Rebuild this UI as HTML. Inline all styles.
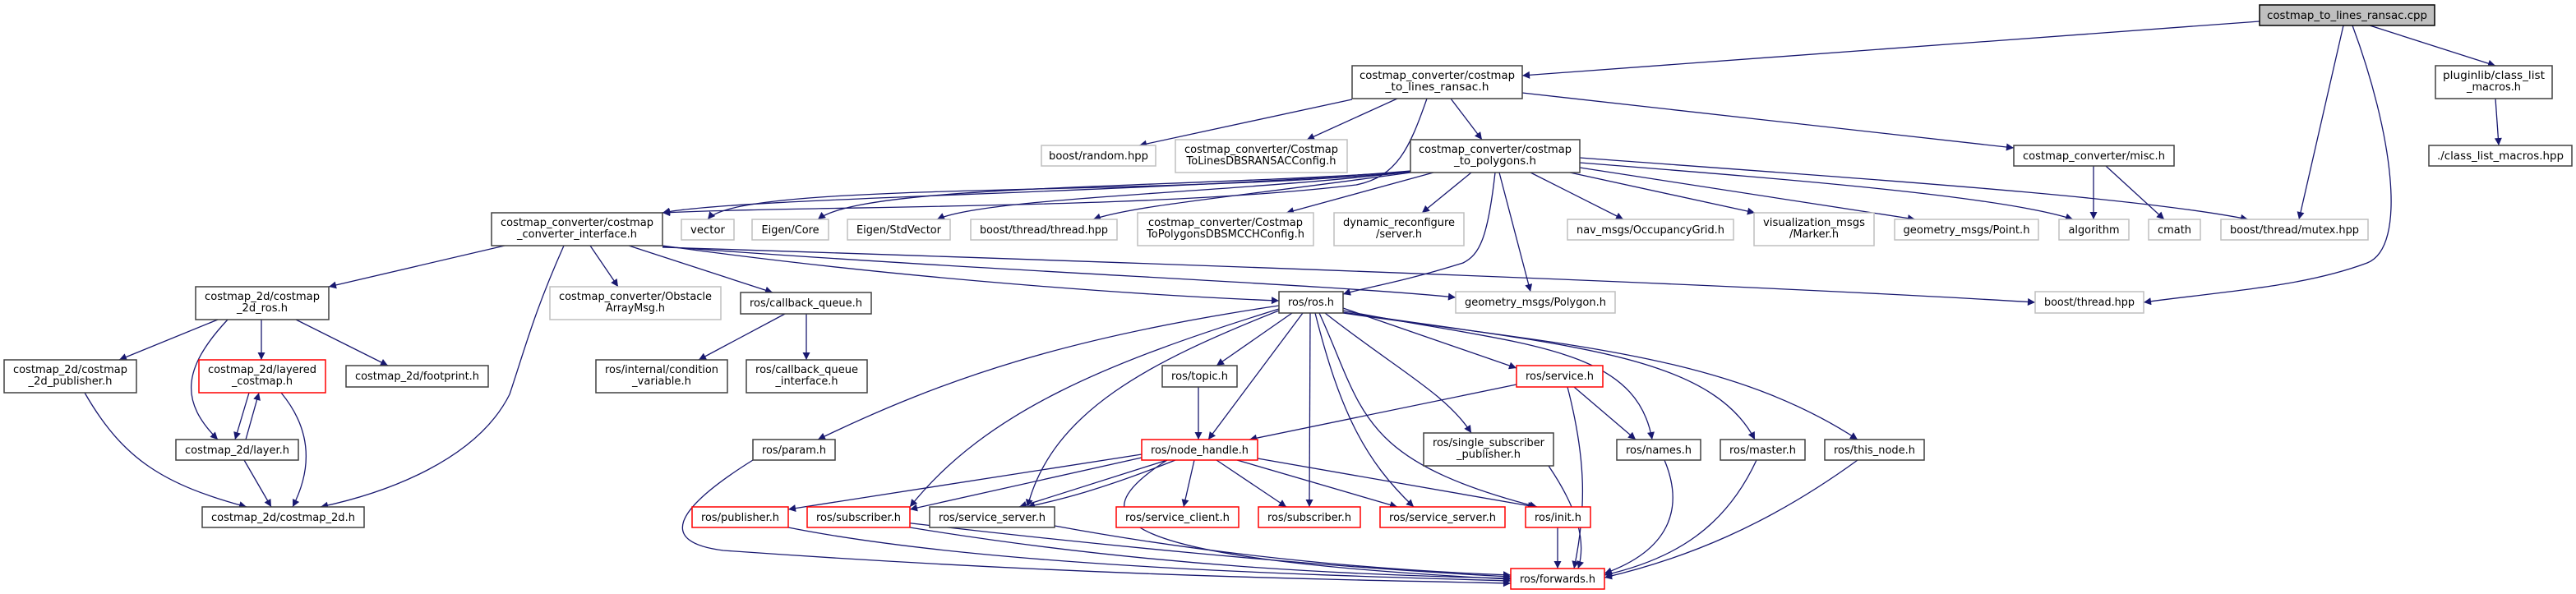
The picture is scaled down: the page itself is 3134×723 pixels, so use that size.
<!DOCTYPE html>
<html><head><meta charset="utf-8"><style>
html,body{margin:0;padding:0;background:#fff;}
svg{display:block;}
text{font-family:"DejaVu Sans","Liberation Sans",sans-serif;font-size:13px;fill:#000;text-anchor:middle;}
.n{fill:#fff;stroke:#404040;stroke-width:1.5;}
.g{fill:#fff;stroke:#bfbfbf;stroke-width:1.5;}
.r{fill:#fff;stroke:#ff0000;stroke-width:1.5;}
.e{fill:none;stroke:#191970;stroke-width:1.3;marker-end:url(#a);}
</style></head><body>
<svg width="3134" height="723" viewBox="0 0 3134 723" xmlns="http://www.w3.org/2000/svg">
<defs><marker id="a" viewBox="0 0 10 10" refX="10" refY="5" markerWidth="11" markerHeight="9" markerUnits="userSpaceOnUse" orient="auto"><path d="M0,0 L10,5 L0,10 z" fill="#191970"/></marker></defs>

<!-- edges -->
<path class="e" d="M2749,26 L1852,92"/>
<path class="e" d="M2883,31 L3036,80"/>
<path class="e" d="M2851,31 L2797,267"/>
<path class="e" d="M2862,31 C2910,160 2930,300 2880,320 C2800,350 2700,355 2608,368"/>
<path class="e" d="M1645,121 L1386,177"/>
<path class="e" d="M1700,120 L1590,170"/>
<path class="e" d="M1765,120 L1803,170"/>
<path class="e" d="M1852,113 L2450,180"/>
<path class="e" d="M1736,120 C1715,180 1700,215 1650,225 C1400,255 1000,250 806,259"/>
<path class="e" d="M1716,208 C1400,235 900,240 806,259"/>
<path class="e" d="M1716,209 C1400,240 900,220 861,267"/>
<path class="e" d="M1716,209 C1400,230 1050,225 995,267"/>
<path class="e" d="M1716,209 C1500,235 1200,240 1140,267"/>
<path class="e" d="M1716,210 C1500,240 1380,250 1330,267"/>
<path class="e" d="M1744,210 L1565,259"/>
<path class="e" d="M1790,210 L1730,259"/>
<path class="e" d="M1862,210 L1975,267"/>
<path class="e" d="M1910,210 L2135,259"/>
<path class="e" d="M1922,204 L2330,267"/>
<path class="e" d="M1922,198 C2200,220 2440,240 2522,267"/>
<path class="e" d="M1922,192 C2300,220 2600,240 2735,267"/>
<path class="e" d="M1819,210 C1810,290 1800,310 1780,320 C1700,345 1660,350 1634,358"/>
<path class="e" d="M1824,210 L1862,355"/>
<path class="e" d="M2547,202 L2547,267"/>
<path class="e" d="M2562,202 L2633,267"/>
<path class="e" d="M3036,120 L3040,177"/>
<path class="e" d="M614,299 L400,349"/>
<path class="e" d="M718,299 L752,349"/>
<path class="e" d="M765,299 L940,356"/>
<path class="e" d="M806,299 C1100,340 1400,360 1556,366"/>
<path class="e" d="M806,300 C1200,330 1600,345 1771,362"/>
<path class="e" d="M806,301 C1400,320 2100,345 2476,368"/>
<path class="e" d="M686,299 C650,380 640,420 620,480 C580,560 470,600 390,617"/>
<path class="e" d="M265,389 L145,438"/>
<path class="e" d="M318,389 L318,438"/>
<path class="e" d="M360,389 L472,445"/>
<path class="e" d="M277,389 C220,450 220,490 265,535"/>
<path class="e" d="M103,478 C150,560 200,590 300,617"/>
<path class="e" d="M303,478 L286,535"/>
<path class="e" d="M299,535 L315,478"/>
<path class="e" d="M342,478 C385,530 375,580 356,617"/>
<path class="e" d="M297,560 L330,617"/>
<path class="e" d="M955,382 L850,438"/>
<path class="e" d="M981,382 L981,438"/>
<!-- ros.h -->
<path class="e" d="M1556,372 C1300,410 1150,460 995,535"/>
<path class="e" d="M1572,381 L1480,445"/>
<path class="e" d="M1585,381 L1470,535"/>
<path class="e" d="M1556,376 C1350,440 1200,500 1107,617"/>
<path class="e" d="M1556,378 C1400,440 1280,500 1250,617"/>
<path class="e" d="M1594,381 L1593,617"/>
<path class="e" d="M1600,381 C1630,500 1660,560 1720,617"/>
<path class="e" d="M1605,381 C1660,500 1650,560 1870,617"/>
<path class="e" d="M1612,381 C1700,450 1760,480 1790,527"/>
<path class="e" d="M1634,375 L1845,448"/>
<path class="e" d="M1634,378 C1850,420 1990,420 2010,535"/>
<path class="e" d="M1634,380 C1900,420 2080,430 2135,535"/>
<path class="e" d="M1634,381 C1900,420 2100,430 2260,535"/>
<!-- service.h -->
<path class="e" d="M1845,468 L1520,535"/>
<path class="e" d="M1915,471 L1990,535"/>
<path class="e" d="M1907,471 C1930,560 1930,620 1915,692"/>
<path class="e" d="M1458,471 L1458,535"/>
<!-- node_handle -->
<path class="e" d="M1389,553 L959,620"/>
<path class="e" d="M1389,557 L1107,620"/>
<path class="e" d="M1420,560 L1240,617"/>
<path class="e" d="M1430,560 C1330,600 1280,610 1250,617"/>
<path class="e" d="M1453,560 L1440,617"/>
<path class="e" d="M1480,560 L1565,617"/>
<path class="e" d="M1505,560 L1700,617"/>
<path class="e" d="M1530,558 L1868,617"/>
<path class="e" d="M1420,560 C1310,630 1340,680 1838,705"/>
<!-- to forwards -->
<path class="e" d="M1884,567 C1920,620 1930,660 1920,692"/>
<path class="e" d="M2025,560 C2050,620 2030,670 1952,698"/>
<path class="e" d="M2137,560 C2100,640 2040,680 1952,700"/>
<path class="e" d="M2260,560 C2150,640 2050,680 1952,703"/>
<path class="e" d="M1895,642 L1895,692"/>
<path class="e" d="M916,560 C820,620 800,660 880,670 C1300,700 1600,705 1838,710"/>
<path class="e" d="M959,642 C1200,690 1600,700 1838,707"/>
<path class="e" d="M1107,642 C1400,690 1650,700 1838,704"/>
<path class="e" d="M1283,640 C1500,680 1700,695 1838,700"/>
<path class="e" d="M1050,630 C1300,660 1600,690 1838,702"/>

<!-- nodes -->
<rect x="2749" y="6" width="213" height="25" fill="#bfbfbf" stroke="#000" stroke-width="1.5"/><text x="2855.5" y="23" textLength="195" lengthAdjust="spacingAndGlyphs">costmap_to_lines_ransac.cpp</text>
<rect class="n" x="1645" y="80" width="207" height="40"/><text x="1748.5" y="96" textLength="189" lengthAdjust="spacingAndGlyphs">costmap_converter/costmap</text><text x="1748.5" y="110" textLength="126" lengthAdjust="spacingAndGlyphs">_to_lines_ransac.h</text>
<rect class="n" x="2963" y="80" width="142" height="40"/><text x="3034" y="96" textLength="124" lengthAdjust="spacingAndGlyphs">pluginlib/class_list</text><text x="3034" y="110" textLength="66" lengthAdjust="spacingAndGlyphs">_macros.h</text>
<rect class="g" x="1267" y="177" width="139" height="25"/><text x="1336.5" y="194" textLength="121" lengthAdjust="spacingAndGlyphs">boost/random.hpp</text>
<rect class="g" x="1430" y="170" width="209" height="40"/><text x="1534.5" y="186" textLength="187" lengthAdjust="spacingAndGlyphs">costmap_converter/Costmap</text><text x="1534.5" y="200" textLength="182" lengthAdjust="spacingAndGlyphs">ToLinesDBSRANSACConfig.h</text>
<rect class="n" x="1716" y="170" width="206" height="40"/><text x="1819" y="186" textLength="186" lengthAdjust="spacingAndGlyphs">costmap_converter/costmap</text><text x="1819" y="200" textLength="100" lengthAdjust="spacingAndGlyphs">_to_polygons.h</text>
<rect class="n" x="2450" y="177" width="195" height="25"/><text x="2547.5" y="194" textLength="173" lengthAdjust="spacingAndGlyphs">costmap_converter/misc.h</text>
<rect class="n" x="2955" y="177" width="174" height="25"/><text x="3042" y="194" textLength="154" lengthAdjust="spacingAndGlyphs">./class_list_macros.hpp</text>
<rect class="n" x="598" y="259" width="208" height="40"/><text x="702" y="275" textLength="186" lengthAdjust="spacingAndGlyphs">costmap_converter/costmap</text><text x="702" y="289" textLength="146" lengthAdjust="spacingAndGlyphs">_converter_interface.h</text>
<rect class="g" x="829" y="267" width="64" height="25"/><text x="861" y="284" textLength="42" lengthAdjust="spacingAndGlyphs">vector</text>
<rect class="g" x="915" y="267" width="93" height="25"/><text x="961.5" y="284" textLength="70" lengthAdjust="spacingAndGlyphs">Eigen/Core</text>
<rect class="g" x="1031" y="267" width="125" height="25"/><text x="1093.5" y="284" textLength="103" lengthAdjust="spacingAndGlyphs">Eigen/StdVector</text>
<rect class="g" x="1181" y="267" width="178" height="25"/><text x="1270" y="284" textLength="156" lengthAdjust="spacingAndGlyphs">boost/thread/thread.hpp</text>
<rect class="g" x="1384" y="259" width="214" height="40"/><text x="1491" y="275" textLength="188" lengthAdjust="spacingAndGlyphs">costmap_converter/Costmap</text><text x="1491" y="289" textLength="192" lengthAdjust="spacingAndGlyphs">ToPolygonsDBSMCCHConfig.h</text>
<rect class="g" x="1623" y="259" width="158" height="40"/><text x="1702" y="275" textLength="136" lengthAdjust="spacingAndGlyphs">dynamic_reconfigure</text><text x="1702" y="289" textLength="56" lengthAdjust="spacingAndGlyphs">/server.h</text>
<rect class="g" x="1907" y="267" width="202" height="25"/><text x="2008" y="284" textLength="180" lengthAdjust="spacingAndGlyphs">nav_msgs/OccupancyGrid.h</text>
<rect class="g" x="2134" y="259" width="146" height="40"/><text x="2207" y="275" textLength="124" lengthAdjust="spacingAndGlyphs">visualization_msgs</text><text x="2207" y="289" textLength="60" lengthAdjust="spacingAndGlyphs">/Marker.h</text>
<rect class="g" x="2305" y="267" width="175" height="25"/><text x="2392.5" y="284" textLength="154" lengthAdjust="spacingAndGlyphs">geometry_msgs/Point.h</text>
<rect class="g" x="2505" y="267" width="85" height="25"/><text x="2547.5" y="284" textLength="62" lengthAdjust="spacingAndGlyphs">algorithm</text>
<rect class="g" x="2614" y="267" width="63" height="25"/><text x="2645.5" y="284" textLength="41" lengthAdjust="spacingAndGlyphs">cmath</text>
<rect class="g" x="2702" y="267" width="179" height="25"/><text x="2791.5" y="284" textLength="157" lengthAdjust="spacingAndGlyphs">boost/thread/mutex.hpp</text>
<rect class="n" x="238" y="349" width="162" height="40"/><text x="319" y="365" textLength="140" lengthAdjust="spacingAndGlyphs">costmap_2d/costmap</text><text x="319" y="379" textLength="62" lengthAdjust="spacingAndGlyphs">_2d_ros.h</text>
<rect class="g" x="669" y="349" width="208" height="40"/><text x="773" y="365" textLength="186" lengthAdjust="spacingAndGlyphs">costmap_converter/Obstacle</text><text x="773" y="379" textLength="72" lengthAdjust="spacingAndGlyphs">ArrayMsg.h</text>
<rect class="n" x="901" y="356" width="159" height="26"/><text x="980.5" y="373" textLength="137" lengthAdjust="spacingAndGlyphs">ros/callback_queue.h</text>
<rect class="n" x="1556" y="355" width="78" height="26"/><text x="1595" y="372" textLength="56" lengthAdjust="spacingAndGlyphs">ros/ros.h</text>
<rect class="g" x="1771" y="355" width="194" height="26"/><text x="1868" y="372" textLength="172" lengthAdjust="spacingAndGlyphs">geometry_msgs/Polygon.h</text>
<rect class="g" x="2476" y="355" width="132" height="26"/><text x="2542" y="372" textLength="110" lengthAdjust="spacingAndGlyphs">boost/thread.hpp</text>
<rect class="n" x="5" y="438" width="161" height="40"/><text x="85.5" y="454" textLength="139" lengthAdjust="spacingAndGlyphs">costmap_2d/costmap</text><text x="85.5" y="468" textLength="102" lengthAdjust="spacingAndGlyphs">_2d_publisher.h</text>
<rect class="r" x="242" y="438" width="154" height="40"/><text x="319" y="454" textLength="132" lengthAdjust="spacingAndGlyphs">costmap_2d/layered</text><text x="319" y="468" textLength="74" lengthAdjust="spacingAndGlyphs">_costmap.h</text>
<rect class="n" x="421" y="445" width="173" height="26"/><text x="507.5" y="462" textLength="151" lengthAdjust="spacingAndGlyphs">costmap_2d/footprint.h</text>
<rect class="n" x="725" y="438" width="160" height="40"/><text x="805" y="454" textLength="138" lengthAdjust="spacingAndGlyphs">ros/internal/condition</text><text x="805" y="468" textLength="72" lengthAdjust="spacingAndGlyphs">_variable.h</text>
<rect class="n" x="908" y="438" width="147" height="40"/><text x="981.5" y="454" textLength="125" lengthAdjust="spacingAndGlyphs">ros/callback_queue</text><text x="981.5" y="468" textLength="76" lengthAdjust="spacingAndGlyphs">_interface.h</text>
<rect class="n" x="1414" y="445" width="91" height="26"/><text x="1459.5" y="462" textLength="69" lengthAdjust="spacingAndGlyphs">ros/topic.h</text>
<rect class="r" x="1845" y="445" width="105" height="26"/><text x="1897.5" y="462" textLength="83" lengthAdjust="spacingAndGlyphs">ros/service.h</text>
<rect class="n" x="214" y="535" width="149" height="25"/><text x="288.5" y="552" textLength="127" lengthAdjust="spacingAndGlyphs">costmap_2d/layer.h</text>
<rect class="n" x="916" y="535" width="100" height="25"/><text x="966" y="552" textLength="78" lengthAdjust="spacingAndGlyphs">ros/param.h</text>
<rect class="r" x="1389" y="535" width="141" height="25"/><text x="1459.5" y="552" textLength="119" lengthAdjust="spacingAndGlyphs">ros/node_handle.h</text>
<rect class="n" x="1732" y="527" width="158" height="40"/><text x="1811" y="543" textLength="136" lengthAdjust="spacingAndGlyphs">ros/single_subscriber</text><text x="1811" y="557" textLength="78" lengthAdjust="spacingAndGlyphs">_publisher.h</text>
<rect class="n" x="1967" y="535" width="102" height="25"/><text x="2018" y="552" textLength="80" lengthAdjust="spacingAndGlyphs">ros/names.h</text>
<rect class="n" x="2093" y="535" width="103" height="25"/><text x="2144.5" y="552" textLength="81" lengthAdjust="spacingAndGlyphs">ros/master.h</text>
<rect class="n" x="2220" y="535" width="121" height="25"/><text x="2280.5" y="552" textLength="99" lengthAdjust="spacingAndGlyphs">ros/this_node.h</text>
<rect class="n" x="246" y="617" width="197" height="25"/><text x="344.5" y="634" textLength="175" lengthAdjust="spacingAndGlyphs">costmap_2d/costmap_2d.h</text>
<rect class="r" x="842" y="617" width="117" height="25"/><text x="900.5" y="634" textLength="95" lengthAdjust="spacingAndGlyphs">ros/publisher.h</text>
<rect class="r" x="982" y="617" width="125" height="25"/><text x="1044.5" y="634" textLength="103" lengthAdjust="spacingAndGlyphs">ros/subscriber.h</text>
<rect class="n" x="1131" y="617" width="152" height="25"/><text x="1207" y="634" textLength="130" lengthAdjust="spacingAndGlyphs">ros/service_server.h</text>
<rect class="r" x="1358" y="617" width="149" height="25"/><text x="1432.5" y="634" textLength="127" lengthAdjust="spacingAndGlyphs">ros/service_client.h</text>
<rect class="r" x="1531" y="617" width="124" height="25"/><text x="1593" y="634" textLength="102" lengthAdjust="spacingAndGlyphs">ros/subscriber.h</text>
<rect class="r" x="1679" y="617" width="152" height="25"/><text x="1755" y="634" textLength="130" lengthAdjust="spacingAndGlyphs">ros/service_server.h</text>
<rect class="r" x="1856" y="617" width="79" height="25"/><text x="1895.5" y="634" textLength="57" lengthAdjust="spacingAndGlyphs">ros/init.h</text>
<rect class="r" x="1838" y="692" width="114" height="25"/><text x="1895" y="709" textLength="92" lengthAdjust="spacingAndGlyphs">ros/forwards.h</text>
</svg>
</body></html>
